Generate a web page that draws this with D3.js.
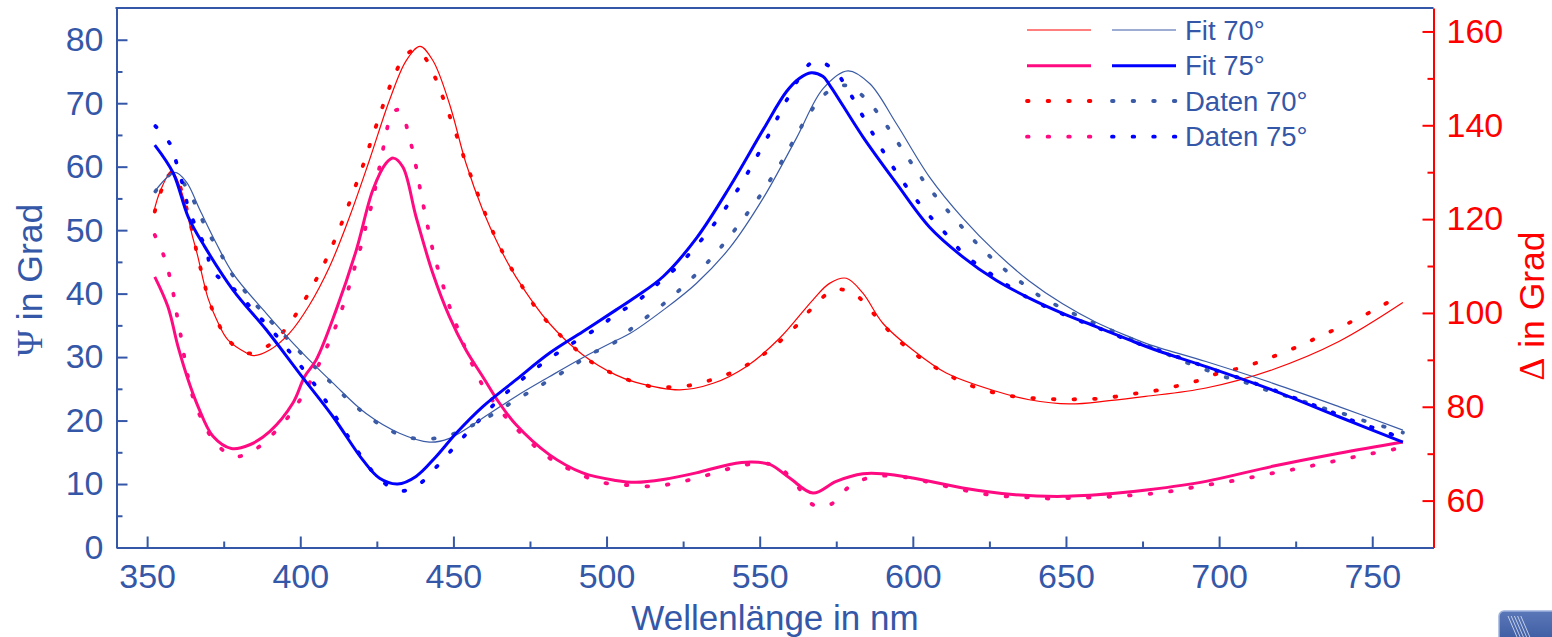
<!DOCTYPE html>
<html><head><meta charset="utf-8">
<script src="https://cdn.jsdelivr.net/npm/d3@7"></script>
<style>body{margin:0;background:#fff;}svg{display:block;}</style>
</head><body>
<svg id="c" width="1552" height="637"></svg>
<script>
// ---------- data ----------
const wlTicks = [350,400,450,500,550,600,650,700,750];
const wlMinor = [375,425,475,525,575,625,675,725];
const psiTicks = [0,10,20,30,40,50,60,70,80];
const psiMinor = [5,15,25,35,45,55,65,75];
const deltaTicks = [60,80,100,120,140,160];
const deltaMinor = [70,90,110,130,150];
const legendLabels = ["Fit 70°","Fit 75°","Daten 70°","Daten 75°"];

// Psi (left axis) [wavelength nm, degrees]
const psiFit70 = [[352.5,56.1],[359,59.1],[362.8,57.6],[367.2,53.2],[372.6,47.9],[378,43.2],[388.9,36.9],[399.8,31.1],[410.7,25.9],[421.5,21.1],[432.4,18.0],[442.2,16.6],[448.7,17.2],[459.6,20.4],[470.4,23.8],[481.3,26.9],[492.2,29.9],[503,32.6],[507.6,33.7],[518.5,37.4],[529.3,41.6],[540.2,47.2],[551.1,55.0],[562,64.5],[570.7,72.3],[578.8,75.1],[585.9,73.1],[594.6,66.8],[605.4,58.4],[616.3,51.9],[627.2,46.5],[638,42.0],[648.9,38.4],[659.8,35.5],[670.7,33.2],[677,32.0],[695.7,29.3],[717.4,25.9],[739.1,22.2],[760,18.5]];
const psiFit75 = [[352.5,63.4],[358.5,59.0],[363.4,52.1],[368.8,47.4],[378,40.6],[388.9,34.3],[399.8,27.4],[410.7,20.6],[420.4,13.8],[425.9,10.9],[431.8,10.0],[437.8,11.2],[444.3,14.3],[450.9,18.0],[459.6,22.2],[470.4,26.4],[481.3,30.6],[492.2,34.0],[503,37.4],[509.6,39.5],[518.5,42.7],[529.3,48.7],[540.2,56.8],[551.1,65.8],[558.7,71.8],[562.9,73.9],[566.8,74.8],[570.7,74.2],[572.8,72.9],[583.7,64.7],[594.6,57.4],[605.4,50.5],[616.3,45.8],[627.2,42.1],[638,39.3],[648.9,36.9],[659.8,34.8],[670.7,32.7],[680,31.0],[695.7,28.5],[717.4,24.8],[739.1,20.6],[760,16.6]];
const psiData70 = [[352.7,56.1],[358.5,59.0],[363.4,56.3],[366.8,52.9],[369.9,49.7],[373.9,46.4],[377.8,43.0],[382.9,39.8],[388.7,36.5],[395.2,33.2],[401.7,29.9],[408.3,26.8],[415,23.6],[421.5,20.9],[428.3,18.7],[434.8,17.4],[441.6,17.1],[448.2,17.6],[454.7,18.9],[461.5,20.6],[468.2,22.6],[474.8,24.5],[481.5,26.4],[488.4,28.4],[494.9,30.5],[501.7,32.0],[507.6,34.3],[513.9,36.6],[520.4,39.1],[527.2,42.1],[533.7,45.3],[539.5,48.6],[544.8,51.9],[549.8,55.2],[554.1,58.4],[558.3,61.7],[562.2,65.1],[566.1,68.3],[571.7,71.6],[578.5,72.8],[585,70.5],[590.4,67.2],[595.1,63.8],[599.5,60.6],[604.1,57.4],[609.6,54.1],[615.5,50.8],[621.7,47.5],[628.3,44.5],[635,41.9],[641.8,39.5],[648.4,37.8],[654.9,36.3],[661.7,34.8],[668.3,33.5],[674.5,32.2],[681.5,30.8],[688.1,29.4],[694.6,28.2],[701.7,26.9],[708,26.1],[714.9,24.9],[721.7,23.9],[728.2,22.9],[735,21.8],[741.8,20.9],[748.4,19.8],[754.9,18.9],[760,18.1]];
const psiData75 = [[352.7,66.4],[357.6,63.5],[359.8,60.2],[361.7,57.0],[363.4,53.6],[366.1,50.3],[369.3,47.0],[371.2,43.7],[378.8,40.5],[385,37.2],[391.3,33.9],[396.9,30.6],[402.2,27.3],[407.1,24.0],[411.4,20.7],[415.7,17.4],[420.3,14.1],[425.5,11.0],[432.4,8.9],[439.1,10.1],[445.6,13.3],[451.9,16.7],[458.1,19.9],[464.6,23.2],[471.2,26.0],[477.7,28.5],[484.5,30.8],[491.3,32.9],[497.8,34.8],[503.2,36.8],[509.5,38.6],[516.3,41.4],[522.8,44.1],[529.1,47.4],[534.7,50.7],[539.6,54.0],[544,57.3],[547.8,60.5],[551.6,63.8],[555.2,67.1],[558.7,70.4],[567.7,76.6],[574.1,75.3],[578.8,72.1],[582.8,68.7],[586.7,65.4],[590.7,62.1],[595.1,58.8],[600,55.5],[605.4,52.3],[611.4,49.1],[616.9,46.1],[623.7,43.7],[630.3,41.5],[637,39.5],[643.6,37.9],[650.4,36.5],[657.2,35.2],[663.7,34.0],[670.2,32.7],[678.3,31.4],[684.8,30.3],[691.9,29.1],[698.4,28.0],[705.4,26.9],[712,25.8],[718.5,24.7],[725,23.5],[732.1,22.2],[738.6,21.0],[745.1,19.7],[752,18.6],[758.7,17.4]];

// Delta (right axis) [wavelength nm, degrees]
const deltaFit70 = [[352.2,121.6],[354.3,126.0],[358.1,130.2],[361.4,125.5],[363.2,120.9],[364.7,116.6],[366.3,112.7],[369.9,103.1],[372.6,98.7],[376.3,94.3],[382.6,91.4],[384.6,90.9],[390,92.1],[396.5,95.7],[403,101.7],[409.6,109.9],[416.1,120.5],[422.6,132.6],[429.1,145.3],[434.6,153.8],[439.1,156.8],[443.3,153.8],[448.7,144.6],[454.1,131.9],[459.6,121.9],[465,114.1],[470.4,107.7],[481.3,97.8],[492.2,91.1],[503,86.8],[509.6,85.2],[523.9,83.6],[534.8,85.0],[545.7,88.6],[556.5,94.6],[567.4,102.8],[572.8,106.3],[578.3,107.4],[583.7,104.2],[590.2,97.8],[600,92.1],[610.9,87.2],[627.2,83.3],[638,81.5],[651.1,80.6],[664.1,81.3],[676,82.2],[695.7,84.0],[717.4,87.9],[739.1,93.9],[760,102.2]];
const deltaFit75 = [[352.5,107.7],[356.8,101.3],[360.1,92.8],[363.4,85.7],[366.6,80.1],[371.5,73.7],[377.5,71.1],[383.5,71.9],[390,74.7],[397.6,80.8],[401.4,86.4],[405.2,90.0],[411.7,100.6],[418.3,113.4],[423.7,126.2],[428,131.9],[430.4,133.0],[433.5,131.1],[437.8,120.5],[443.3,108.4],[448.7,99.2],[454.1,92.1],[459.6,86.4],[465,80.8],[470.4,76.2],[481.3,69.8],[492.2,65.9],[503,64.3],[509.6,63.9],[518.5,64.5],[529.3,65.9],[540.2,67.7],[547.3,68.2],[553.3,67.7],[559.8,64.8],[567.4,61.6],[575,64.1],[583.7,65.7],[590.2,65.7],[600,64.8],[616.3,62.7],[632.6,61.3],[648.9,60.9],[665.2,61.5],[677,62.3],[695.7,64.1],[717.4,67.3],[739.1,70.1],[760,72.5]];
const deltaData70 = [[352.5,121.6],[354.7,126.2],[358.3,130.0],[361.5,125.5],[363.4,120.9],[365.1,116.4],[366.5,112.0],[368.2,107.6],[370,103.1],[372.6,98.7],[376.4,94.3],[382.9,91.4],[389.5,93.0],[395.7,97.0],[400.1,101.3],[404.1,105.8],[407.6,110.2],[410.7,114.7],[413.5,119.1],[416.1,123.6],[418.5,127.9],[421,132.4],[423.2,136.8],[425.5,141.3],[427.8,145.7],[430.4,150.1],[434.1,154.7],[437.3,156.0],[440.5,154.6],[444.1,150.1],[446.7,145.7],[449.2,141.2],[451.6,136.8],[453.9,132.3],[456.5,127.9],[459,123.5],[461.7,119.1],[464.8,114.6],[468.3,110.2],[472.4,105.7],[476.7,101.3],[482.2,97.0],[488.7,93.0],[495.4,89.4],[502,87.1],[508.5,85.4],[515,84.3],[521.7,84.2],[528.3,84.7],[535,85.9],[541.6,87.5],[548.4,89.9],[554.9,93.0],[561.7,97.1],[567.8,101.5],[574.5,105.0],[581,104.0],[587.4,99.7],[593.5,95.3],[600,91.6],[606.8,88.6],[613.3,86.2],[619.9,84.3],[626.6,83.0],[633.2,82.2],[639.9,81.8],[646.5,81.6],[653.3,81.6],[660,81.7],[666.6,82.2],[673.4,82.9],[679.9,83.5],[686.7,84.5],[693.3,85.6],[700,87.2],[706.5,88.2],[713.3,89.6],[719.9,91.3],[726.7,93.1],[733.2,95.1],[739.9,97.1],[746.5,99.2],[753.3,101.6],[760,104.0]];
const deltaData75 = [[352.5,116.6],[355.5,112.1],[357.4,107.7],[358.8,103.3],[359.9,98.9],[361.2,94.4],[362.3,90.0],[363.6,85.6],[365.4,81.1],[368.3,76.7],[372.1,72.5],[378.3,69.4],[384.8,70.7],[391.4,74.4],[397.1,78.7],[401.4,83.1],[405,87.6],[408.2,92.0],[411.2,96.5],[413.7,101.0],[415.9,105.5],[417.9,110.0],[419.9,114.4],[421.5,118.7],[423.4,123.3],[424.8,127.6],[426.2,132.2],[427.5,136.4],[429.1,140.9],[431.5,143.3],[433.3,142.5],[435.4,137.9],[437.1,133.5],[438.4,129.0],[439.7,124.5],[441.1,120.1],[442.5,115.6],[444.1,111.3],[446.2,106.8],[448.2,102.4],[450.7,97.9],[453.3,93.4],[456.1,89.1],[459.6,84.5],[463.9,80.4],[469.9,75.8],[476.4,71.7],[482.9,68.4],[489.8,66.1],[496.3,64.3],[502.8,63.4],[508.6,63.3],[515.5,63.0],[522.1,63.7],[528.9,64.7],[535.4,65.9],[542.3,67.2],[548.8,67.9],[555.5,67.4],[561.5,63.8],[566.4,59.5],[569.8,58.8],[573.2,59.2],[579.7,63.2],[586.5,65.0],[593.3,65.3],[599.9,64.7],[606.7,63.7],[613.2,62.7],[619.9,61.8],[626.5,61.1],[633.2,60.8],[639.8,60.6],[646.4,60.4],[653,60.6],[659.6,60.7],[666.3,60.9],[672.8,61.2],[679.9,61.6],[686.4,62.2],[692.9,63.0],[699.7,63.7],[706.3,64.4],[713.2,65.3],[719.7,66.1],[726.4,66.9],[733,67.8],[739.8,68.7],[746.3,69.6],[752.8,70.4],[760,71.3]];

// ---------- drawing ----------
const FONT = '"Liberation Sans", Arial, Helvetica, sans-serif';
const AXB = '#3557a7', RED = '#ff0000', PINK = '#ff0a80', BLUE = '#0000ff', STEEL = '#3b5ba6';
const L = 116.5, R = 1433.5, T = 8, B = 547.5;
const svg = d3.select('#c');

const x = d3.scaleLinear().domain([340,770]).range([L,R]);
const yL = d3.scaleLinear().domain([0,85]).range([B,T]);
const yR = d3.scaleLinear().domain([50,165]).range([B,T]);

function style(g, color, fs){
  g.selectAll('path,line').attr('stroke',color).attr('stroke-width',2);
  g.selectAll('text').attr('fill',color).attr('font-family',FONT).attr('font-size',fs);
}

// top frame
svg.append('line').attr('x1',L-1).attr('x2',R).attr('y1',T).attr('y2',T)
  .attr('stroke',AXB).attr('stroke-width',2);

// bottom axis
const gx = svg.append('g').attr('transform',`translate(0,${B})`)
  .call(d3.axisBottom(x).tickValues(wlTicks).tickSizeInner(-11).tickSizeOuter(0).tickPadding(16));
style(gx, AXB, 34);
const gxm = svg.append('g').attr('transform',`translate(0,${B})`)
  .call(d3.axisBottom(x).tickValues(wlMinor).tickSizeInner(-6).tickSizeOuter(0).tickFormat(''));
gxm.select('.domain').remove(); style(gxm, AXB, 34);

// left axis
const gyl = svg.append('g').attr('transform',`translate(${L},0)`)
  .call(d3.axisLeft(yL).tickValues(psiTicks).tickSizeInner(-11).tickSizeOuter(0).tickPadding(13));
style(gyl, AXB, 34);
const gylm = svg.append('g').attr('transform',`translate(${L},0)`)
  .call(d3.axisLeft(yL).tickValues(psiMinor).tickSizeInner(-6).tickSizeOuter(0).tickFormat(''));
gylm.select('.domain').remove(); style(gylm, AXB, 34);

// right axis
const gyr = svg.append('g').attr('transform',`translate(${R},0)`)
  .call(d3.axisRight(yR).tickValues(deltaTicks).tickSizeInner(-11).tickSizeOuter(0).tickPadding(13));
style(gyr, RED, 34);
const gyrm = svg.append('g').attr('transform',`translate(${R},0)`)
  .call(d3.axisRight(yR).tickValues(deltaMinor).tickSizeInner(-6).tickSizeOuter(0).tickFormat(''));
gyrm.select('.domain').remove(); style(gyrm, RED, 34);

// axis titles
svg.append('text').attr('x',(L+R)/2).attr('y',629.5).attr('text-anchor','middle')
  .attr('font-family',FONT).attr('font-size',35).attr('fill',AXB).text('Wellenlänge in nm');
const tl = svg.append('text').attr('transform','translate(41.5,280) rotate(-90)').attr('text-anchor','middle')
  .attr('font-family',FONT).attr('font-size',35.5).attr('fill',AXB);
tl.append('tspan').attr('font-family','"Liberation Serif", "DejaVu Serif", serif').text('Ψ');
tl.append('tspan').text(' in Grad');
const tr = svg.append('text').attr('transform','translate(1544,306) rotate(-90)').attr('text-anchor','middle')
  .attr('font-family',FONT).attr('font-size',35.5).attr('fill',RED);
tr.append('tspan').attr('font-family','"Liberation Serif", "DejaVu Serif", serif').text('Δ');
tr.append('tspan').text(' in Grad');

// series
const DOT = {w:3.8, dash:'1.6 19'};
const series = [
  {d:deltaData70, s:yR, c:RED,   dotted:true},
  {d:psiData70,   s:yL, c:STEEL, dotted:true},
  {d:deltaData75, s:yR, c:PINK,  dotted:true},
  {d:psiData75,   s:yL, c:BLUE,  dotted:true},
  {d:deltaFit70,  s:yR, c:RED,   w:1.2},
  {d:psiFit70,    s:yL, c:STEEL, w:1.2},
  {d:deltaFit75,  s:yR, c:PINK,  w:3},
  {d:psiFit75,    s:yL, c:BLUE,  w:3}
];
series.forEach(o=>{
  const gen = d3.line().x(p=>x(p[0])).y(p=>o.s(p[1])).curve(d3.curveCatmullRom.alpha(0.5));
  const p = svg.append('path').attr('d',gen(o.d)).attr('fill','none').attr('stroke',o.c);
  if(o.dotted){ p.attr('stroke-width',DOT.w).attr('stroke-dasharray',DOT.dash).attr('stroke-linecap','round'); }
  else { p.attr('stroke-width',o.w).attr('stroke-linejoin','round'); }
});

// legend
const legRows = [30, 65.7, 101, 136.7];
const legStyles = [
  [{c:RED,w:1.2},{c:STEEL,w:1.2}],
  [{c:PINK,w:3},{c:BLUE,w:3}],
  [{c:RED,dotted:true},{c:STEEL,dotted:true}],
  [{c:PINK,dotted:true},{c:BLUE,dotted:true}]
];
const legX = [[1027,1091],[1112,1176]];
legRows.forEach((yy,i)=>{
  legStyles[i].forEach((st,j)=>{
    const ln = svg.append('line').attr('x1',legX[j][0]).attr('x2',legX[j][1]).attr('y1',yy).attr('y2',yy).attr('stroke',st.c);
    if(st.dotted) ln.attr('stroke-width',DOT.w).attr('stroke-dasharray',DOT.dash).attr('stroke-linecap','round');
    else ln.attr('stroke-width',st.w);
  });
  svg.append('text').attr('x',1185).attr('y',yy+9.5).attr('font-family',FONT).attr('font-size',27.5)
    .attr('fill',AXB).text(legendLabels[i]);
});

// small logo (bottom right)
const defs = svg.append('defs');
const lg = defs.append('linearGradient').attr('id','lg').attr('x1',0).attr('y1',0).attr('x2',0).attr('y2',1);
lg.append('stop').attr('offset','0%').attr('stop-color','#5a78b8');
lg.append('stop').attr('offset','100%').attr('stop-color','#34529a');
svg.append('rect').attr('x',1499).attr('y',611).attr('width',70).attr('height',40).attr('rx',5)
  .attr('fill','url(#lg)').attr('stroke','#9fb3de').attr('stroke-width',1.5);
for(let i=0;i<5;i++){
  svg.append('line').attr('x1',1508+i*3.2).attr('y1',616).attr('x2',1517+i*3.2).attr('y2',637)
    .attr('stroke','#dfe7f7').attr('stroke-width',1).attr('opacity',0.8);
}
</script>
</body></html>
